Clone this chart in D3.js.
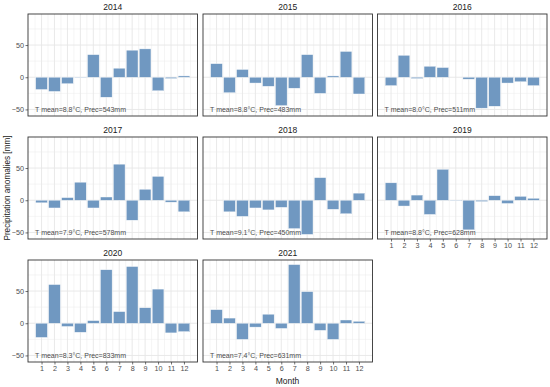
<!DOCTYPE html>
<html><head><meta charset="utf-8">
<script src="https://cdn.jsdelivr.net/npm/d3@7"></script>
<style>body{margin:0;background:#fff}svg{display:block}text{font-family:"Liberation Sans",Arial,sans-serif}</style>
</head><body><svg id="c" width="550" height="387"></svg>
<script>
const years = [2014, 2015, 2016, 2017, 2018, 2019, 2020, 2021];
const months = [1,2,3,4,5,6,7,8,9,10,11,12];
const anom2014 = [-19,-22,-10,-1,35,-31,14,42,44,-21,-2,2];
const anom2015 = [21,-24,12,-9,-14,-44,-17,35,-25,2,40,-26];
const anom2016 = [-13,34,-2,17,15,0,-3,-48,-45,-9,-7,-13];
const anom2017 = [-4,-12,4,28,-12,5,56,-31,17,37,-3,-18];
const anom2018 = [0,-18,-25,-12,-15,-11,-44,-53,35,-14,-21,11];
const anom2019 = [27,-9,8,-22,48,-1,-46,-2,7,-5,6,3];
const anom2020 = [-22,60,-5,-14,4,83,18,88,24,53,-15,-13];
const anom2021 = [21,8,-25,-6,14,-8,91,49,-11,-25,5,3];
const labels = ["T mean=8.8°C, Prec=543mm","T mean=8.8°C, Prec=483mm","T mean=8.0°C, Prec=511mm",
  "T mean=7.9°C, Prec=578mm","T mean=9.1°C, Prec=450mm","T mean=8.8°C, Prec=628mm",
  "T mean=8.3°C, Prec=833mm","T mean=7.4°C, Prec=631mm"];
const yTicks = [-50, 0, 50];
const yMinor = [-25, 25, 75];
const series = [anom2014, anom2015, anom2016, anom2017, anom2018, anom2019, anom2020, anom2021];

const svg = d3.select("#c");
const colX = [28, 203, 377.5], rowY = [14, 137, 260];
const pw = 169.5, ph = 102;
const barW = 0.9;
const all = series.flat();
const ymin = d3.min(all), ymax = d3.max(all), yr = ymax - ymin;
const xlo = 1 - barW/2, xhi = 12 + barW/2, xr = xhi - xlo;
const x = d3.scaleLinear().domain([xlo - 0.05*xr, xhi + 0.05*xr]).range([0, pw]);
const y = d3.scaleLinear().domain([ymin - 0.05*yr, ymax + 0.05*yr]).range([ph, 0]);
const xMinor = d3.range(0.5, 13, 1);

years.forEach((yr_, i) => {
  const col = i % 3, row = Math.floor(i / 3);
  const g = svg.append("g").attr("transform", `translate(${colX[col]},${rowY[row]})`);
  g.selectAll(".mnx").data(xMinor).join("line").attr("x1", d=>x(d)).attr("x2", d=>x(d))
    .attr("y1",0).attr("y2",ph).attr("stroke","#ebebeb").attr("stroke-width",0.5);
  g.selectAll(".mny").data(yMinor).join("line").attr("y1", d=>y(d)).attr("y2", d=>y(d))
    .attr("x1",0).attr("x2",pw).attr("stroke","#ebebeb").attr("stroke-width",0.5);
  g.selectAll(".mjx").data(months).join("line").attr("x1", d=>x(d)).attr("x2", d=>x(d))
    .attr("y1",0).attr("y2",ph).attr("stroke","#e6e6e6").attr("stroke-width",0.9);
  g.selectAll(".mjy").data(yTicks).join("line").attr("y1", d=>y(d)).attr("y2", d=>y(d))
    .attr("x1",0).attr("x2",pw).attr("stroke","#e6e6e6").attr("stroke-width",0.9);
  const data = months.map((m, k) => ({m, v: series[i][k]}));
  g.selectAll(".bar").data(data).join("rect")
    .attr("x", d => x(d.m - barW/2)).attr("width", x(barW) - x(0))
    .attr("y", d => y(Math.max(0, d.v))).attr("height", d => Math.abs(y(d.v) - y(0)))
    .attr("fill", "#7098c1").attr("stroke", "#f4f7fa").attr("stroke-width", 0.4);
  g.append("text").attr("x", x(0.5)).attr("y", y(-50)).attr("dy","0.35em")
    .attr("font-size", 7).attr("fill", "#4d4d4d").text(labels[i]);
  g.append("rect").attr("width", pw).attr("height", ph).attr("fill","none")
    .attr("stroke","#333").attr("stroke-width",0.9);
  g.append("text").attr("x", pw/2).attr("y", -7).attr("dy","0.35em").attr("text-anchor","middle")
    .attr("font-size", 8.5).attr("fill","#1a1a1a").text(yr_);
  if (col === 0) {
    const ya = g.append("g").call(d3.axisLeft(y).tickValues(yTicks).tickSize(2.5).tickPadding(1.5));
    ya.select(".domain").remove();
    ya.selectAll("line").attr("stroke","#333").attr("stroke-width",0.7);
    ya.selectAll("text").attr("font-size",7.2).attr("fill","#4d4d4d").attr("font-family",'"Liberation Sans",Arial,sans-serif');
  }
  if (i + 3 >= years.length) {
    const xa = g.append("g").attr("transform",`translate(0,${ph})`)
      .call(d3.axisBottom(x).tickValues(months).tickFormat(d3.format("d")).tickSize(2.5).tickPadding(1.5));
    xa.select(".domain").remove();
    xa.selectAll("line").attr("stroke","#333").attr("stroke-width",0.7);
    xa.selectAll("text").attr("font-size",7.2).attr("fill","#4d4d4d").attr("font-family",'"Liberation Sans",Arial,sans-serif');
  }
});
svg.append("text").attr("transform","translate(7,188) rotate(-90)").attr("text-anchor","middle")
  .attr("dy","0.35em").attr("font-size",8.2).attr("fill","#1a1a1a").text("Precipitation anomalies [mm]");
svg.append("text").attr("x",287.5).attr("y",381).attr("text-anchor","middle").attr("dy","0.35em")
  .attr("font-size",8.5).attr("fill","#1a1a1a").text("Month");
</script></body></html>
